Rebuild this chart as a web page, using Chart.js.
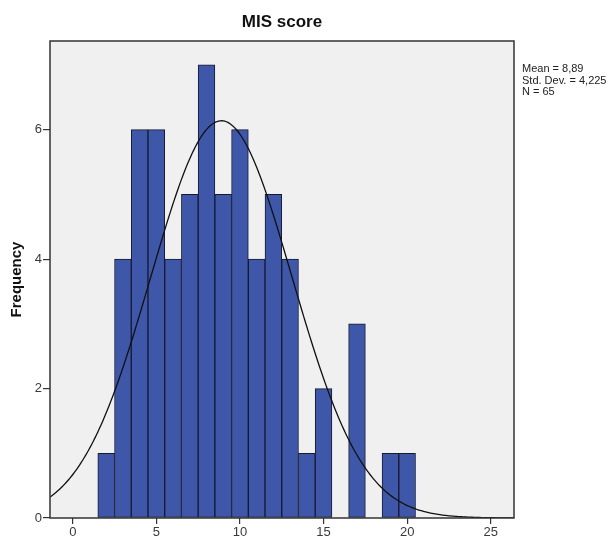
<!DOCTYPE html>
<html>
<head>
<meta charset="utf-8">
<script src="https://cdn.jsdelivr.net/npm/chart.js@4/dist/chart.umd.min.js"></script>
<style>
  html, body { margin: 0; padding: 0; background: #fff; }
  #wrap { width: 614px; height: 539px; }
</style>
</head>
<body>
<div id="wrap"><canvas id="histChart" width="614" height="539"></canvas></div>
<script>
// MIS score histogram, bins of width 1 centred on the integers
const binCenters = [2, 3, 4, 5, 6, 7, 8, 9, 10, 11, 12, 13, 14, 15, 16, 17, 18, 19, 20]
const binCounts  = [1, 4, 6, 6, 4, 5, 7, 5, 6, 4, 5, 4, 1, 2, 0, 3, 0, 1, 1]
const xTicks = [0, 5, 10, 15, 20, 25]
const yTicks = [0, 2, 4, 6]

// summary statistics shown beside the plot
const scoreMean = 8.89
const scoreSd = 4.225
const scoreN = 65
const statLines = ["Mean = 8,89", "Std. Dev. = 4,225", "N = 65"]

const xMin = -1.36
const xMax = 26.39
const yMax = 7.37

// normal curve scaled to counts (bin width 1)
const curvePts = []
for (let i = 0; i <= 300; i++) {
  const x = xMin + (xMax - xMin) * i / 300
  const z = (x - scoreMean) / scoreSd
  curvePts.push({ x: x, y: scoreN / (scoreSd * Math.sqrt(2 * Math.PI)) * Math.exp(-0.5 * z * z) })
}

const barPts = binCenters
  .map((c, i) => ({ x: c, y: binCounts[i] }))
  .filter(p => p.y > 0)

const plotFrame = {
  id: "plotFrame",
  beforeDatasetsDraw(chart) {
    const { ctx, chartArea: a } = chart
    ctx.save()
    ctx.fillStyle = "#f0f0f0"
    ctx.fillRect(a.left, a.top, a.right - a.left, a.bottom - a.top)
    ctx.restore()
  },
  afterDraw(chart) {
    const { ctx, chartArea: a } = chart
    ctx.save()
    ctx.strokeStyle = "#333"
    ctx.lineWidth = 1.5
    ctx.strokeRect(a.left, a.top, a.right - a.left, a.bottom - a.top)

    // title
    ctx.fillStyle = "#111"
    ctx.font = "bold 17px 'Liberation Sans', Arial, sans-serif"
    ctx.textAlign = "center"
    ctx.textBaseline = "middle"
    ctx.fillText("MIS score", (a.left + a.right) / 2, 22)

    // y axis title
    ctx.save()
    ctx.translate(17, (a.top + a.bottom) / 2)
    ctx.rotate(-Math.PI / 2)
    ctx.font = "bold 15px 'Liberation Sans', Arial, sans-serif"
    ctx.fillText("Frequency", 0, 0)
    ctx.restore()

    // stats box text
    ctx.font = "11px 'Liberation Sans', Arial, sans-serif"
    ctx.textAlign = "left"
    ctx.fillStyle = "#222"
    statLines.forEach((s, i) => ctx.fillText(s, a.right + 8, 69 + i * 11.5))
    ctx.restore()
  }
}

const ctx = document.getElementById("histChart").getContext("2d")
new Chart(ctx, {
  data: {
    datasets: [
      {
        type: "line",
        data: curvePts,
        borderColor: "#111",
        borderWidth: 1.3,
        pointRadius: 0,
        tension: 0,
        fill: false,
        order: 0,
      },
      {
        type: "bar",
        data: barPts,
        backgroundColor: "#3e57a9",
        borderColor: "#161a30",
        borderWidth: 1,
        borderSkipped: false,
        barPercentage: 1,
        categoryPercentage: 1,
        grouped: false,
        order: 1,
      },
    ],
  },
  options: {
    responsive: false,
    animation: false,
    layout: { padding: { top: 41, right: 100, left: 0, bottom: 0 } },
    plugins: {
      legend: { display: false },
      tooltip: { enabled: false },
    },
    scales: {
      x: {
        type: "linear",
        min: xMin,
        max: xMax,
        offset: false,
        afterBuildTicks: (s) => { s.ticks = xTicks.map(v => ({ value: v })) },
        afterFit: (s) => { s.height = 21 },
        grid: { drawOnChartArea: false, offset: false, tickLength: 6, color: "#333", lineWidth: 1.2 },
        border: { display: false },
        ticks: {
          color: "#3a3a3a",
          padding: 1,
          maxRotation: 0,
          font: { family: "'Liberation Sans', Arial, sans-serif", size: 13 },
        },
      },
      y: {
        min: 0,
        max: yMax,
        afterBuildTicks: (s) => { s.ticks = yTicks.map(v => ({ value: v })) },
        afterFit: (s) => { s.width = 50 },
        grid: { drawOnChartArea: false, tickLength: 7, color: "#333", lineWidth: 1.2 },
        border: { display: false },
        ticks: {
          color: "#3a3a3a",
          padding: 1,
          font: { family: "'Liberation Sans', Arial, sans-serif", size: 13 },
        },
      },
    },
  },
  plugins: [plotFrame],
})
</script>
</body>
</html>
